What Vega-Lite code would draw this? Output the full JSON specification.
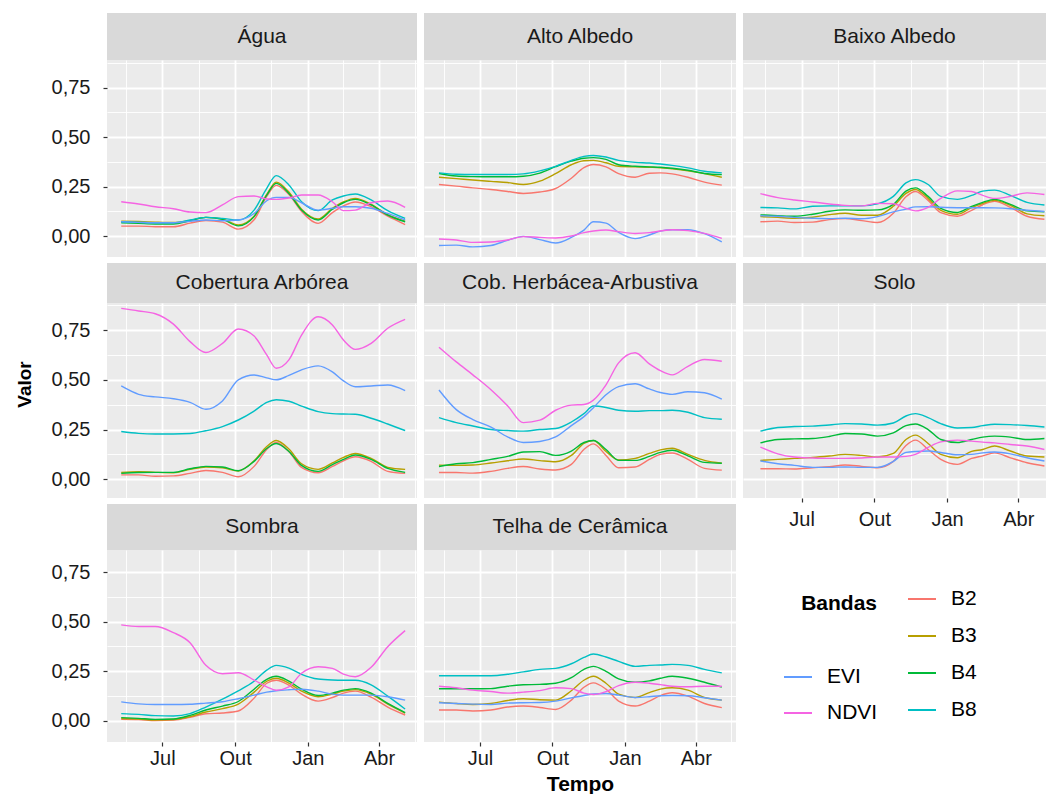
{
"$schema": "https://vega.github.io/schema/vega-lite/v6.json",
"background": "#FFFFFF",
"padding": {"left": 15, "top": 13, "right": 0, "bottom": 0},
"spacing": 7,
"config": {
  "font": "Liberation Sans",
  "view": {"fill": "#EBEBEB", "stroke": null},
  "axis": {"domain": false, "gridColor": "#FFFFFF", "gridOpacity": 1, "tickColor": "#333333", "tickSize": 4, "tickWidth": 1.2, "labelFont": "Liberation Sans", "labelFontSize": 20, "labelColor": "#1A1A1A", "titleFont": "Liberation Sans", "titleColor": "#000000", "titleFontWeight": "bold"},
  "legend": {"labelFont": "Liberation Sans", "labelFontSize": 21, "labelColor": "#000000", "titleFont": "Liberation Sans", "titleFontSize": 21, "titleFontWeight": "bold", "titleColor": "#000000", "symbolType": "stroke", "symbolStrokeWidth": 2, "symbolSize": 784, "labelOffset": 14, "rowPadding": 9, "padding": 0}
},
"datasets": {
"agua": [
{"s":"B2","t":"2018-05-10","v":0.05},{"s":"B2","t":"2018-06-01","v":0.05},{"s":"B2","t":"2018-06-22","v":0.047},{"s":"B2","t":"2018-07-15","v":0.047},{"s":"B2","t":"2018-08-05","v":0.065},{"s":"B2","t":"2018-08-25","v":0.078},{"s":"B2","t":"2018-09-15","v":0.07},{"s":"B2","t":"2018-10-05","v":0.035},{"s":"B2","t":"2018-10-25","v":0.082},{"s":"B2","t":"2018-11-10","v":0.2},{"s":"B2","t":"2018-11-22","v":0.256},{"s":"B2","t":"2018-12-08","v":0.21},{"s":"B2","t":"2018-12-24","v":0.125},{"s":"B2","t":"2019-01-14","v":0.064},{"s":"B2","t":"2019-02-01","v":0.118},{"s":"B2","t":"2019-02-15","v":0.152},{"s":"B2","t":"2019-03-02","v":0.172},{"s":"B2","t":"2019-03-22","v":0.148},{"s":"B2","t":"2019-04-12","v":0.1},{"s":"B2","t":"2019-05-04","v":0.058},
{"s":"B3","t":"2018-05-10","v":0.075},{"s":"B3","t":"2018-06-01","v":0.073},{"s":"B3","t":"2018-06-22","v":0.07},{"s":"B3","t":"2018-07-15","v":0.068},{"s":"B3","t":"2018-08-05","v":0.078},{"s":"B3","t":"2018-08-25","v":0.094},{"s":"B3","t":"2018-09-15","v":0.086},{"s":"B3","t":"2018-10-05","v":0.056},{"s":"B3","t":"2018-10-25","v":0.1},{"s":"B3","t":"2018-11-10","v":0.21},{"s":"B3","t":"2018-11-22","v":0.272},{"s":"B3","t":"2018-12-08","v":0.222},{"s":"B3","t":"2018-12-24","v":0.135},{"s":"B3","t":"2019-01-14","v":0.086},{"s":"B3","t":"2019-02-01","v":0.14},{"s":"B3","t":"2019-02-15","v":0.172},{"s":"B3","t":"2019-03-02","v":0.19},{"s":"B3","t":"2019-03-22","v":0.16},{"s":"B3","t":"2019-04-12","v":0.108},{"s":"B3","t":"2019-05-04","v":0.075},
{"s":"B4","t":"2018-05-10","v":0.067},{"s":"B4","t":"2018-06-01","v":0.064},{"s":"B4","t":"2018-06-22","v":0.061},{"s":"B4","t":"2018-07-15","v":0.061},{"s":"B4","t":"2018-08-05","v":0.077},{"s":"B4","t":"2018-08-25","v":0.094},{"s":"B4","t":"2018-09-15","v":0.084},{"s":"B4","t":"2018-10-05","v":0.051},{"s":"B4","t":"2018-10-25","v":0.098},{"s":"B4","t":"2018-11-10","v":0.207},{"s":"B4","t":"2018-11-22","v":0.266},{"s":"B4","t":"2018-12-08","v":0.215},{"s":"B4","t":"2018-12-24","v":0.131},{"s":"B4","t":"2019-01-14","v":0.081},{"s":"B4","t":"2019-02-01","v":0.135},{"s":"B4","t":"2019-02-15","v":0.168},{"s":"B4","t":"2019-03-02","v":0.185},{"s":"B4","t":"2019-03-22","v":0.157},{"s":"B4","t":"2019-04-12","v":0.106},{"s":"B4","t":"2019-05-04","v":0.072},
{"s":"B8","t":"2018-05-10","v":0.072},{"s":"B8","t":"2018-06-01","v":0.069},{"s":"B8","t":"2018-06-22","v":0.067},{"s":"B8","t":"2018-07-15","v":0.067},{"s":"B8","t":"2018-08-05","v":0.081},{"s":"B8","t":"2018-08-25","v":0.094},{"s":"B8","t":"2018-09-15","v":0.089},{"s":"B8","t":"2018-10-05","v":0.081},{"s":"B8","t":"2018-10-25","v":0.131},{"s":"B8","t":"2018-11-10","v":0.241},{"s":"B8","t":"2018-11-22","v":0.305},{"s":"B8","t":"2018-12-08","v":0.258},{"s":"B8","t":"2018-12-24","v":0.173},{"s":"B8","t":"2019-01-14","v":0.128},{"s":"B8","t":"2019-02-01","v":0.182},{"s":"B8","t":"2019-02-15","v":0.202},{"s":"B8","t":"2019-03-02","v":0.212},{"s":"B8","t":"2019-03-22","v":0.182},{"s":"B8","t":"2019-04-12","v":0.128},{"s":"B8","t":"2019-05-04","v":0.089},
{"s":"EVI","t":"2018-05-10","v":0.072},{"s":"EVI","t":"2018-06-01","v":0.069},{"s":"EVI","t":"2018-06-22","v":0.067},{"s":"EVI","t":"2018-07-15","v":0.067},{"s":"EVI","t":"2018-08-05","v":0.074},{"s":"EVI","t":"2018-08-25","v":0.081},{"s":"EVI","t":"2018-09-15","v":0.077},{"s":"EVI","t":"2018-10-05","v":0.081},{"s":"EVI","t":"2018-10-25","v":0.114},{"s":"EVI","t":"2018-11-10","v":0.178},{"s":"EVI","t":"2018-11-22","v":0.195},{"s":"EVI","t":"2018-12-08","v":0.195},{"s":"EVI","t":"2018-12-24","v":0.168},{"s":"EVI","t":"2019-01-14","v":0.131},{"s":"EVI","t":"2019-02-01","v":0.14},{"s":"EVI","t":"2019-02-15","v":0.148},{"s":"EVI","t":"2019-03-02","v":0.148},{"s":"EVI","t":"2019-03-22","v":0.14},{"s":"EVI","t":"2019-04-12","v":0.114},{"s":"EVI","t":"2019-05-04","v":0.081},
{"s":"NDVI","t":"2018-05-10","v":0.173},{"s":"NDVI","t":"2018-06-01","v":0.162},{"s":"NDVI","t":"2018-06-22","v":0.148},{"s":"NDVI","t":"2018-07-15","v":0.138},{"s":"NDVI","t":"2018-08-05","v":0.121},{"s":"NDVI","t":"2018-08-25","v":0.118},{"s":"NDVI","t":"2018-09-15","v":0.157},{"s":"NDVI","t":"2018-10-05","v":0.199},{"s":"NDVI","t":"2018-10-25","v":0.202},{"s":"NDVI","t":"2018-11-10","v":0.187},{"s":"NDVI","t":"2018-11-22","v":0.185},{"s":"NDVI","t":"2018-12-08","v":0.192},{"s":"NDVI","t":"2018-12-24","v":0.207},{"s":"NDVI","t":"2019-01-14","v":0.207},{"s":"NDVI","t":"2019-02-01","v":0.173},{"s":"NDVI","t":"2019-02-15","v":0.128},{"s":"NDVI","t":"2019-03-02","v":0.131},{"s":"NDVI","t":"2019-03-22","v":0.168},{"s":"NDVI","t":"2019-04-12","v":0.177},{"s":"NDVI","t":"2019-05-04","v":0.145}
],
"alto": [
{"s":"B2","t":"2018-05-10","v":0.26},{"s":"B2","t":"2018-06-01","v":0.252},{"s":"B2","t":"2018-06-22","v":0.243},{"s":"B2","t":"2018-07-15","v":0.235},{"s":"B2","t":"2018-08-05","v":0.225},{"s":"B2","t":"2018-08-25","v":0.215},{"s":"B2","t":"2018-09-15","v":0.222},{"s":"B2","t":"2018-10-05","v":0.24},{"s":"B2","t":"2018-10-25","v":0.292},{"s":"B2","t":"2018-11-10","v":0.345},{"s":"B2","t":"2018-11-22","v":0.361},{"s":"B2","t":"2018-12-08","v":0.349},{"s":"B2","t":"2018-12-24","v":0.315},{"s":"B2","t":"2019-01-14","v":0.297},{"s":"B2","t":"2019-02-01","v":0.317},{"s":"B2","t":"2019-02-15","v":0.319},{"s":"B2","t":"2019-03-02","v":0.314},{"s":"B2","t":"2019-03-22","v":0.297},{"s":"B2","t":"2019-04-12","v":0.272},{"s":"B2","t":"2019-05-04","v":0.257},
{"s":"B3","t":"2018-05-10","v":0.297},{"s":"B3","t":"2018-06-01","v":0.29},{"s":"B3","t":"2018-06-22","v":0.283},{"s":"B3","t":"2018-07-15","v":0.276},{"s":"B3","t":"2018-08-05","v":0.27},{"s":"B3","t":"2018-08-25","v":0.26},{"s":"B3","t":"2018-09-15","v":0.277},{"s":"B3","t":"2018-10-05","v":0.315},{"s":"B3","t":"2018-10-25","v":0.36},{"s":"B3","t":"2018-11-10","v":0.38},{"s":"B3","t":"2018-11-22","v":0.382},{"s":"B3","t":"2018-12-08","v":0.37},{"s":"B3","t":"2018-12-24","v":0.352},{"s":"B3","t":"2019-01-14","v":0.349},{"s":"B3","t":"2019-02-01","v":0.347},{"s":"B3","t":"2019-02-15","v":0.345},{"s":"B3","t":"2019-03-02","v":0.339},{"s":"B3","t":"2019-03-22","v":0.329},{"s":"B3","t":"2019-04-12","v":0.315},{"s":"B3","t":"2019-05-04","v":0.297},
{"s":"B4","t":"2018-05-10","v":0.316},{"s":"B4","t":"2018-06-01","v":0.303},{"s":"B4","t":"2018-06-22","v":0.3},{"s":"B4","t":"2018-07-15","v":0.299},{"s":"B4","t":"2018-08-05","v":0.299},{"s":"B4","t":"2018-08-25","v":0.302},{"s":"B4","t":"2018-09-15","v":0.318},{"s":"B4","t":"2018-10-05","v":0.35},{"s":"B4","t":"2018-10-25","v":0.378},{"s":"B4","t":"2018-11-10","v":0.393},{"s":"B4","t":"2018-11-22","v":0.396},{"s":"B4","t":"2018-12-08","v":0.387},{"s":"B4","t":"2018-12-24","v":0.36},{"s":"B4","t":"2019-01-14","v":0.352},{"s":"B4","t":"2019-02-01","v":0.349},{"s":"B4","t":"2019-02-15","v":0.347},{"s":"B4","t":"2019-03-02","v":0.342},{"s":"B4","t":"2019-03-22","v":0.332},{"s":"B4","t":"2019-04-12","v":0.316},{"s":"B4","t":"2019-05-04","v":0.31},
{"s":"B8","t":"2018-05-10","v":0.319},{"s":"B8","t":"2018-06-01","v":0.312},{"s":"B8","t":"2018-06-22","v":0.311},{"s":"B8","t":"2018-07-15","v":0.311},{"s":"B8","t":"2018-08-05","v":0.311},{"s":"B8","t":"2018-08-25","v":0.314},{"s":"B8","t":"2018-09-15","v":0.329},{"s":"B8","t":"2018-10-05","v":0.352},{"s":"B8","t":"2018-10-25","v":0.382},{"s":"B8","t":"2018-11-10","v":0.402},{"s":"B8","t":"2018-11-22","v":0.407},{"s":"B8","t":"2018-12-08","v":0.399},{"s":"B8","t":"2018-12-24","v":0.382},{"s":"B8","t":"2019-01-14","v":0.372},{"s":"B8","t":"2019-02-01","v":0.369},{"s":"B8","t":"2019-02-15","v":0.364},{"s":"B8","t":"2019-03-02","v":0.357},{"s":"B8","t":"2019-03-22","v":0.344},{"s":"B8","t":"2019-04-12","v":0.327},{"s":"B8","t":"2019-05-04","v":0.319},
{"s":"EVI","t":"2018-05-10","v":-0.048},{"s":"EVI","t":"2018-06-01","v":-0.046},{"s":"EVI","t":"2018-06-22","v":-0.055},{"s":"EVI","t":"2018-07-15","v":-0.048},{"s":"EVI","t":"2018-08-05","v":-0.022},{"s":"EVI","t":"2018-08-25","v":-0.002},{"s":"EVI","t":"2018-09-15","v":-0.018},{"s":"EVI","t":"2018-10-05","v":-0.035},{"s":"EVI","t":"2018-10-25","v":-0.007},{"s":"EVI","t":"2018-11-10","v":0.03},{"s":"EVI","t":"2018-11-22","v":0.072},{"s":"EVI","t":"2018-12-08","v":0.065},{"s":"EVI","t":"2018-12-24","v":0.018},{"s":"EVI","t":"2019-01-14","v":-0.013},{"s":"EVI","t":"2019-02-01","v":0.005},{"s":"EVI","t":"2019-02-15","v":0.025},{"s":"EVI","t":"2019-03-02","v":0.032},{"s":"EVI","t":"2019-03-22","v":0.032},{"s":"EVI","t":"2019-04-12","v":0.012},{"s":"EVI","t":"2019-05-04","v":-0.03},
{"s":"NDVI","t":"2018-05-10","v":-0.015},{"s":"NDVI","t":"2018-06-01","v":-0.02},{"s":"NDVI","t":"2018-06-22","v":-0.032},{"s":"NDVI","t":"2018-07-15","v":-0.03},{"s":"NDVI","t":"2018-08-05","v":-0.02},{"s":"NDVI","t":"2018-08-25","v":-0.003},{"s":"NDVI","t":"2018-09-15","v":-0.007},{"s":"NDVI","t":"2018-10-05","v":-0.01},{"s":"NDVI","t":"2018-10-25","v":0.0},{"s":"NDVI","t":"2018-11-10","v":0.017},{"s":"NDVI","t":"2018-11-22","v":0.025},{"s":"NDVI","t":"2018-12-08","v":0.03},{"s":"NDVI","t":"2018-12-24","v":0.022},{"s":"NDVI","t":"2019-01-14","v":0.013},{"s":"NDVI","t":"2019-02-01","v":0.017},{"s":"NDVI","t":"2019-02-15","v":0.025},{"s":"NDVI","t":"2019-03-02","v":0.032},{"s":"NDVI","t":"2019-03-22","v":0.027},{"s":"NDVI","t":"2019-04-12","v":0.013},{"s":"NDVI","t":"2019-05-04","v":-0.012}
],
"baixo": [
{"s":"B2","t":"2018-05-10","v":0.072},{"s":"B2","t":"2018-06-01","v":0.075},{"s":"B2","t":"2018-06-22","v":0.068},{"s":"B2","t":"2018-07-15","v":0.07},{"s":"B2","t":"2018-08-05","v":0.083},{"s":"B2","t":"2018-08-25","v":0.088},{"s":"B2","t":"2018-09-15","v":0.078},{"s":"B2","t":"2018-10-05","v":0.068},{"s":"B2","t":"2018-10-25","v":0.115},{"s":"B2","t":"2018-11-10","v":0.198},{"s":"B2","t":"2018-11-22","v":0.225},{"s":"B2","t":"2018-12-08","v":0.18},{"s":"B2","t":"2018-12-24","v":0.118},{"s":"B2","t":"2019-01-14","v":0.1},{"s":"B2","t":"2019-02-01","v":0.13},{"s":"B2","t":"2019-02-15","v":0.158},{"s":"B2","t":"2019-03-02","v":0.175},{"s":"B2","t":"2019-03-22","v":0.145},{"s":"B2","t":"2019-04-12","v":0.1},{"s":"B2","t":"2019-05-04","v":0.085},
{"s":"B3","t":"2018-05-10","v":0.098},{"s":"B3","t":"2018-06-01","v":0.094},{"s":"B3","t":"2018-06-22","v":0.09},{"s":"B3","t":"2018-07-15","v":0.095},{"s":"B3","t":"2018-08-05","v":0.108},{"s":"B3","t":"2018-08-25","v":0.115},{"s":"B3","t":"2018-09-15","v":0.105},{"s":"B3","t":"2018-10-05","v":0.105},{"s":"B3","t":"2018-10-25","v":0.15},{"s":"B3","t":"2018-11-10","v":0.215},{"s":"B3","t":"2018-11-22","v":0.235},{"s":"B3","t":"2018-12-08","v":0.19},{"s":"B3","t":"2018-12-24","v":0.13},{"s":"B3","t":"2019-01-14","v":0.11},{"s":"B3","t":"2019-02-01","v":0.143},{"s":"B3","t":"2019-02-15","v":0.165},{"s":"B3","t":"2019-03-02","v":0.18},{"s":"B3","t":"2019-03-22","v":0.155},{"s":"B3","t":"2019-04-12","v":0.112},{"s":"B3","t":"2019-05-04","v":0.102},
{"s":"B4","t":"2018-05-10","v":0.107},{"s":"B4","t":"2018-06-01","v":0.103},{"s":"B4","t":"2018-06-22","v":0.1},{"s":"B4","t":"2018-07-15","v":0.11},{"s":"B4","t":"2018-08-05","v":0.125},{"s":"B4","t":"2018-08-25","v":0.132},{"s":"B4","t":"2018-09-15","v":0.13},{"s":"B4","t":"2018-10-05","v":0.132},{"s":"B4","t":"2018-10-25","v":0.16},{"s":"B4","t":"2018-11-10","v":0.227},{"s":"B4","t":"2018-11-22","v":0.243},{"s":"B4","t":"2018-12-08","v":0.2},{"s":"B4","t":"2018-12-24","v":0.14},{"s":"B4","t":"2019-01-14","v":0.119},{"s":"B4","t":"2019-02-01","v":0.15},{"s":"B4","t":"2019-02-15","v":0.17},{"s":"B4","t":"2019-03-02","v":0.185},{"s":"B4","t":"2019-03-22","v":0.16},{"s":"B4","t":"2019-04-12","v":0.127},{"s":"B4","t":"2019-05-04","v":0.122},
{"s":"B8","t":"2018-05-10","v":0.144},{"s":"B8","t":"2018-06-01","v":0.142},{"s":"B8","t":"2018-06-22","v":0.137},{"s":"B8","t":"2018-07-15","v":0.15},{"s":"B8","t":"2018-08-05","v":0.152},{"s":"B8","t":"2018-08-25","v":0.152},{"s":"B8","t":"2018-09-15","v":0.152},{"s":"B8","t":"2018-10-05","v":0.162},{"s":"B8","t":"2018-10-25","v":0.2},{"s":"B8","t":"2018-11-10","v":0.268},{"s":"B8","t":"2018-11-22","v":0.285},{"s":"B8","t":"2018-12-08","v":0.26},{"s":"B8","t":"2018-12-24","v":0.2},{"s":"B8","t":"2019-01-14","v":0.185},{"s":"B8","t":"2019-02-01","v":0.205},{"s":"B8","t":"2019-02-15","v":0.227},{"s":"B8","t":"2019-03-02","v":0.232},{"s":"B8","t":"2019-03-22","v":0.205},{"s":"B8","t":"2019-04-12","v":0.17},{"s":"B8","t":"2019-05-04","v":0.157},
{"s":"EVI","t":"2018-05-10","v":0.102},{"s":"EVI","t":"2018-06-01","v":0.1},{"s":"EVI","t":"2018-06-22","v":0.094},{"s":"EVI","t":"2018-07-15","v":0.09},{"s":"EVI","t":"2018-08-05","v":0.088},{"s":"EVI","t":"2018-08-25","v":0.09},{"s":"EVI","t":"2018-09-15","v":0.087},{"s":"EVI","t":"2018-10-05","v":0.098},{"s":"EVI","t":"2018-10-25","v":0.122},{"s":"EVI","t":"2018-11-10","v":0.136},{"s":"EVI","t":"2018-11-22","v":0.147},{"s":"EVI","t":"2018-12-08","v":0.148},{"s":"EVI","t":"2018-12-24","v":0.145},{"s":"EVI","t":"2019-01-14","v":0.143},{"s":"EVI","t":"2019-02-01","v":0.143},{"s":"EVI","t":"2019-02-15","v":0.143},{"s":"EVI","t":"2019-03-02","v":0.142},{"s":"EVI","t":"2019-03-22","v":0.138},{"s":"EVI","t":"2019-04-12","v":0.13},{"s":"EVI","t":"2019-05-04","v":0.124},
{"s":"NDVI","t":"2018-05-10","v":0.214},{"s":"NDVI","t":"2018-06-01","v":0.194},{"s":"NDVI","t":"2018-06-22","v":0.182},{"s":"NDVI","t":"2018-07-15","v":0.172},{"s":"NDVI","t":"2018-08-05","v":0.162},{"s":"NDVI","t":"2018-08-25","v":0.155},{"s":"NDVI","t":"2018-09-15","v":0.152},{"s":"NDVI","t":"2018-10-05","v":0.165},{"s":"NDVI","t":"2018-10-25","v":0.163},{"s":"NDVI","t":"2018-11-10","v":0.14},{"s":"NDVI","t":"2018-11-22","v":0.127},{"s":"NDVI","t":"2018-12-08","v":0.145},{"s":"NDVI","t":"2018-12-24","v":0.19},{"s":"NDVI","t":"2019-01-14","v":0.228},{"s":"NDVI","t":"2019-02-01","v":0.225},{"s":"NDVI","t":"2019-02-15","v":0.205},{"s":"NDVI","t":"2019-03-02","v":0.19},{"s":"NDVI","t":"2019-03-22","v":0.2},{"s":"NDVI","t":"2019-04-12","v":0.218},{"s":"NDVI","t":"2019-05-04","v":0.21}
],
"arb": [
{"s":"B2","t":"2018-05-10","v":0.022},{"s":"B2","t":"2018-06-01","v":0.022},{"s":"B2","t":"2018-06-22","v":0.015},{"s":"B2","t":"2018-07-15","v":0.017},{"s":"B2","t":"2018-08-05","v":0.03},{"s":"B2","t":"2018-08-25","v":0.044},{"s":"B2","t":"2018-09-15","v":0.035},{"s":"B2","t":"2018-10-05","v":0.013},{"s":"B2","t":"2018-10-25","v":0.065},{"s":"B2","t":"2018-11-10","v":0.15},{"s":"B2","t":"2018-11-22","v":0.185},{"s":"B2","t":"2018-12-08","v":0.14},{"s":"B2","t":"2018-12-24","v":0.06},{"s":"B2","t":"2019-01-14","v":0.033},{"s":"B2","t":"2019-02-01","v":0.065},{"s":"B2","t":"2019-02-15","v":0.093},{"s":"B2","t":"2019-03-02","v":0.113},{"s":"B2","t":"2019-03-22","v":0.09},{"s":"B2","t":"2019-04-12","v":0.04},{"s":"B2","t":"2019-05-04","v":0.03},
{"s":"B3","t":"2018-05-10","v":0.035},{"s":"B3","t":"2018-06-01","v":0.038},{"s":"B3","t":"2018-06-22","v":0.035},{"s":"B3","t":"2018-07-15","v":0.033},{"s":"B3","t":"2018-08-05","v":0.05},{"s":"B3","t":"2018-08-25","v":0.062},{"s":"B3","t":"2018-09-15","v":0.058},{"s":"B3","t":"2018-10-05","v":0.042},{"s":"B3","t":"2018-10-25","v":0.093},{"s":"B3","t":"2018-11-10","v":0.165},{"s":"B3","t":"2018-11-22","v":0.195},{"s":"B3","t":"2018-12-08","v":0.152},{"s":"B3","t":"2018-12-24","v":0.078},{"s":"B3","t":"2019-01-14","v":0.05},{"s":"B3","t":"2019-02-01","v":0.082},{"s":"B3","t":"2019-02-15","v":0.11},{"s":"B3","t":"2019-03-02","v":0.13},{"s":"B3","t":"2019-03-22","v":0.105},{"s":"B3","t":"2019-04-12","v":0.06},{"s":"B3","t":"2019-05-04","v":0.05},
{"s":"B4","t":"2018-05-10","v":0.03},{"s":"B4","t":"2018-06-01","v":0.034},{"s":"B4","t":"2018-06-22","v":0.035},{"s":"B4","t":"2018-07-15","v":0.035},{"s":"B4","t":"2018-08-05","v":0.053},{"s":"B4","t":"2018-08-25","v":0.065},{"s":"B4","t":"2018-09-15","v":0.062},{"s":"B4","t":"2018-10-05","v":0.043},{"s":"B4","t":"2018-10-25","v":0.09},{"s":"B4","t":"2018-11-10","v":0.155},{"s":"B4","t":"2018-11-22","v":0.18},{"s":"B4","t":"2018-12-08","v":0.14},{"s":"B4","t":"2018-12-24","v":0.07},{"s":"B4","t":"2019-01-14","v":0.04},{"s":"B4","t":"2019-02-01","v":0.074},{"s":"B4","t":"2019-02-15","v":0.1},{"s":"B4","t":"2019-03-02","v":0.122},{"s":"B4","t":"2019-03-22","v":0.1},{"s":"B4","t":"2019-04-12","v":0.055},{"s":"B4","t":"2019-05-04","v":0.035},
{"s":"B8","t":"2018-05-10","v":0.24},{"s":"B8","t":"2018-06-01","v":0.231},{"s":"B8","t":"2018-06-22","v":0.228},{"s":"B8","t":"2018-07-15","v":0.228},{"s":"B8","t":"2018-08-05","v":0.23},{"s":"B8","t":"2018-08-25","v":0.244},{"s":"B8","t":"2018-09-15","v":0.265},{"s":"B8","t":"2018-10-05","v":0.298},{"s":"B8","t":"2018-10-25","v":0.343},{"s":"B8","t":"2018-11-10","v":0.387},{"s":"B8","t":"2018-11-22","v":0.4},{"s":"B8","t":"2018-12-08","v":0.392},{"s":"B8","t":"2018-12-24","v":0.368},{"s":"B8","t":"2019-01-14","v":0.34},{"s":"B8","t":"2019-02-01","v":0.33},{"s":"B8","t":"2019-02-15","v":0.328},{"s":"B8","t":"2019-03-02","v":0.327},{"s":"B8","t":"2019-03-22","v":0.307},{"s":"B8","t":"2019-04-12","v":0.278},{"s":"B8","t":"2019-05-04","v":0.245},
{"s":"EVI","t":"2018-05-10","v":0.469},{"s":"EVI","t":"2018-06-01","v":0.427},{"s":"EVI","t":"2018-06-22","v":0.414},{"s":"EVI","t":"2018-07-15","v":0.405},{"s":"EVI","t":"2018-08-05","v":0.387},{"s":"EVI","t":"2018-08-25","v":0.352},{"s":"EVI","t":"2018-09-15","v":0.394},{"s":"EVI","t":"2018-10-05","v":0.5},{"s":"EVI","t":"2018-10-25","v":0.524},{"s":"EVI","t":"2018-11-10","v":0.51},{"s":"EVI","t":"2018-11-22","v":0.5},{"s":"EVI","t":"2018-12-08","v":0.522},{"s":"EVI","t":"2018-12-24","v":0.55},{"s":"EVI","t":"2019-01-14","v":0.57},{"s":"EVI","t":"2019-02-01","v":0.54},{"s":"EVI","t":"2019-02-15","v":0.495},{"s":"EVI","t":"2019-03-02","v":0.465},{"s":"EVI","t":"2019-03-22","v":0.469},{"s":"EVI","t":"2019-04-12","v":0.474},{"s":"EVI","t":"2019-05-04","v":0.446},
{"s":"NDVI","t":"2018-05-10","v":0.859},{"s":"NDVI","t":"2018-06-01","v":0.846},{"s":"NDVI","t":"2018-06-22","v":0.832},{"s":"NDVI","t":"2018-07-15","v":0.78},{"s":"NDVI","t":"2018-08-05","v":0.692},{"s":"NDVI","t":"2018-08-25","v":0.637},{"s":"NDVI","t":"2018-09-15","v":0.683},{"s":"NDVI","t":"2018-10-05","v":0.755},{"s":"NDVI","t":"2018-10-25","v":0.72},{"s":"NDVI","t":"2018-11-10","v":0.625},{"s":"NDVI","t":"2018-11-22","v":0.558},{"s":"NDVI","t":"2018-12-08","v":0.6},{"s":"NDVI","t":"2018-12-24","v":0.725},{"s":"NDVI","t":"2019-01-14","v":0.817},{"s":"NDVI","t":"2019-02-01","v":0.776},{"s":"NDVI","t":"2019-02-15","v":0.7},{"s":"NDVI","t":"2019-03-02","v":0.653},{"s":"NDVI","t":"2019-03-22","v":0.683},{"s":"NDVI","t":"2019-04-12","v":0.759},{"s":"NDVI","t":"2019-05-04","v":0.804}
],
"herb": [
{"s":"B2","t":"2018-05-10","v":0.034},{"s":"B2","t":"2018-06-01","v":0.034},{"s":"B2","t":"2018-06-22","v":0.031},{"s":"B2","t":"2018-07-15","v":0.04},{"s":"B2","t":"2018-08-05","v":0.055},{"s":"B2","t":"2018-08-25","v":0.064},{"s":"B2","t":"2018-09-15","v":0.052},{"s":"B2","t":"2018-10-05","v":0.047},{"s":"B2","t":"2018-10-25","v":0.075},{"s":"B2","t":"2018-11-10","v":0.15},{"s":"B2","t":"2018-11-22","v":0.178},{"s":"B2","t":"2018-12-08","v":0.12},{"s":"B2","t":"2018-12-24","v":0.058},{"s":"B2","t":"2019-01-14","v":0.062},{"s":"B2","t":"2019-02-01","v":0.1},{"s":"B2","t":"2019-02-15","v":0.125},{"s":"B2","t":"2019-03-02","v":0.132},{"s":"B2","t":"2019-03-22","v":0.1},{"s":"B2","t":"2019-04-12","v":0.055},{"s":"B2","t":"2019-05-04","v":0.046},
{"s":"B3","t":"2018-05-10","v":0.071},{"s":"B3","t":"2018-06-01","v":0.07},{"s":"B3","t":"2018-06-22","v":0.072},{"s":"B3","t":"2018-07-15","v":0.082},{"s":"B3","t":"2018-08-05","v":0.093},{"s":"B3","t":"2018-08-25","v":0.102},{"s":"B3","t":"2018-09-15","v":0.094},{"s":"B3","t":"2018-10-05","v":0.088},{"s":"B3","t":"2018-10-25","v":0.12},{"s":"B3","t":"2018-11-10","v":0.18},{"s":"B3","t":"2018-11-22","v":0.195},{"s":"B3","t":"2018-12-08","v":0.14},{"s":"B3","t":"2018-12-24","v":0.097},{"s":"B3","t":"2019-01-14","v":0.105},{"s":"B3","t":"2019-02-01","v":0.13},{"s":"B3","t":"2019-02-15","v":0.148},{"s":"B3","t":"2019-03-02","v":0.156},{"s":"B3","t":"2019-03-22","v":0.125},{"s":"B3","t":"2019-04-12","v":0.095},{"s":"B3","t":"2019-05-04","v":0.081},
{"s":"B4","t":"2018-05-10","v":0.064},{"s":"B4","t":"2018-06-01","v":0.078},{"s":"B4","t":"2018-06-22","v":0.084},{"s":"B4","t":"2018-07-15","v":0.1},{"s":"B4","t":"2018-08-05","v":0.115},{"s":"B4","t":"2018-08-25","v":0.137},{"s":"B4","t":"2018-09-15","v":0.139},{"s":"B4","t":"2018-10-05","v":0.12},{"s":"B4","t":"2018-10-25","v":0.142},{"s":"B4","t":"2018-11-10","v":0.185},{"s":"B4","t":"2018-11-22","v":0.195},{"s":"B4","t":"2018-12-08","v":0.15},{"s":"B4","t":"2018-12-24","v":0.095},{"s":"B4","t":"2019-01-14","v":0.095},{"s":"B4","t":"2019-02-01","v":0.115},{"s":"B4","t":"2019-02-15","v":0.135},{"s":"B4","t":"2019-03-02","v":0.146},{"s":"B4","t":"2019-03-22","v":0.118},{"s":"B4","t":"2019-04-12","v":0.085},{"s":"B4","t":"2019-05-04","v":0.081},
{"s":"B8","t":"2018-05-10","v":0.31},{"s":"B8","t":"2018-06-01","v":0.285},{"s":"B8","t":"2018-06-22","v":0.268},{"s":"B8","t":"2018-07-15","v":0.25},{"s":"B8","t":"2018-08-05","v":0.245},{"s":"B8","t":"2018-08-25","v":0.242},{"s":"B8","t":"2018-09-15","v":0.25},{"s":"B8","t":"2018-10-05","v":0.255},{"s":"B8","t":"2018-10-25","v":0.288},{"s":"B8","t":"2018-11-10","v":0.33},{"s":"B8","t":"2018-11-22","v":0.368},{"s":"B8","t":"2018-12-08","v":0.361},{"s":"B8","t":"2018-12-24","v":0.347},{"s":"B8","t":"2019-01-14","v":0.342},{"s":"B8","t":"2019-02-01","v":0.345},{"s":"B8","t":"2019-02-15","v":0.345},{"s":"B8","t":"2019-03-02","v":0.347},{"s":"B8","t":"2019-03-22","v":0.337},{"s":"B8","t":"2019-04-12","v":0.31},{"s":"B8","t":"2019-05-04","v":0.302},
{"s":"EVI","t":"2018-05-10","v":0.449},{"s":"EVI","t":"2018-06-01","v":0.35},{"s":"EVI","t":"2018-06-22","v":0.3},{"s":"EVI","t":"2018-07-15","v":0.262},{"s":"EVI","t":"2018-08-05","v":0.213},{"s":"EVI","t":"2018-08-25","v":0.185},{"s":"EVI","t":"2018-09-15","v":0.19},{"s":"EVI","t":"2018-10-05","v":0.213},{"s":"EVI","t":"2018-10-25","v":0.27},{"s":"EVI","t":"2018-11-10","v":0.315},{"s":"EVI","t":"2018-11-22","v":0.36},{"s":"EVI","t":"2018-12-08","v":0.425},{"s":"EVI","t":"2018-12-24","v":0.466},{"s":"EVI","t":"2019-01-14","v":0.48},{"s":"EVI","t":"2019-02-01","v":0.454},{"s":"EVI","t":"2019-02-15","v":0.436},{"s":"EVI","t":"2019-03-02","v":0.427},{"s":"EVI","t":"2019-03-22","v":0.44},{"s":"EVI","t":"2019-04-12","v":0.435},{"s":"EVI","t":"2019-05-04","v":0.403},
{"s":"NDVI","t":"2018-05-10","v":0.664},{"s":"NDVI","t":"2018-06-01","v":0.59},{"s":"NDVI","t":"2018-06-22","v":0.525},{"s":"NDVI","t":"2018-07-15","v":0.45},{"s":"NDVI","t":"2018-08-05","v":0.37},{"s":"NDVI","t":"2018-08-25","v":0.285},{"s":"NDVI","t":"2018-09-15","v":0.297},{"s":"NDVI","t":"2018-10-05","v":0.347},{"s":"NDVI","t":"2018-10-25","v":0.373},{"s":"NDVI","t":"2018-11-10","v":0.376},{"s":"NDVI","t":"2018-11-22","v":0.398},{"s":"NDVI","t":"2018-12-08","v":0.475},{"s":"NDVI","t":"2018-12-24","v":0.585},{"s":"NDVI","t":"2019-01-14","v":0.636},{"s":"NDVI","t":"2019-02-01","v":0.58},{"s":"NDVI","t":"2019-02-15","v":0.546},{"s":"NDVI","t":"2019-03-02","v":0.525},{"s":"NDVI","t":"2019-03-22","v":0.568},{"s":"NDVI","t":"2019-04-12","v":0.602},{"s":"NDVI","t":"2019-05-04","v":0.593}
],
"solo": [
{"s":"B2","t":"2018-05-10","v":0.053},{"s":"B2","t":"2018-06-01","v":0.053},{"s":"B2","t":"2018-06-22","v":0.052},{"s":"B2","t":"2018-07-15","v":0.058},{"s":"B2","t":"2018-08-05","v":0.063},{"s":"B2","t":"2018-08-25","v":0.072},{"s":"B2","t":"2018-09-15","v":0.065},{"s":"B2","t":"2018-10-05","v":0.058},{"s":"B2","t":"2018-10-25","v":0.09},{"s":"B2","t":"2018-11-10","v":0.17},{"s":"B2","t":"2018-11-22","v":0.197},{"s":"B2","t":"2018-12-08","v":0.15},{"s":"B2","t":"2018-12-24","v":0.1},{"s":"B2","t":"2019-01-14","v":0.075},{"s":"B2","t":"2019-02-01","v":0.105},{"s":"B2","t":"2019-02-15","v":0.118},{"s":"B2","t":"2019-03-02","v":0.133},{"s":"B2","t":"2019-03-22","v":0.108},{"s":"B2","t":"2019-04-12","v":0.083},{"s":"B2","t":"2019-05-04","v":0.067},
{"s":"B3","t":"2018-05-10","v":0.095},{"s":"B3","t":"2018-06-01","v":0.1},{"s":"B3","t":"2018-06-22","v":0.105},{"s":"B3","t":"2018-07-15","v":0.11},{"s":"B3","t":"2018-08-05","v":0.117},{"s":"B3","t":"2018-08-25","v":0.125},{"s":"B3","t":"2018-09-15","v":0.12},{"s":"B3","t":"2018-10-05","v":0.112},{"s":"B3","t":"2018-10-25","v":0.13},{"s":"B3","t":"2018-11-10","v":0.2},{"s":"B3","t":"2018-11-22","v":0.222},{"s":"B3","t":"2018-12-08","v":0.18},{"s":"B3","t":"2018-12-24","v":0.125},{"s":"B3","t":"2019-01-14","v":0.108},{"s":"B3","t":"2019-02-01","v":0.14},{"s":"B3","t":"2019-02-15","v":0.15},{"s":"B3","t":"2019-03-02","v":0.167},{"s":"B3","t":"2019-03-22","v":0.142},{"s":"B3","t":"2019-04-12","v":0.117},{"s":"B3","t":"2019-05-04","v":0.112},
{"s":"B4","t":"2018-05-10","v":0.183},{"s":"B4","t":"2018-06-01","v":0.2},{"s":"B4","t":"2018-06-22","v":0.203},{"s":"B4","t":"2018-07-15","v":0.205},{"s":"B4","t":"2018-08-05","v":0.215},{"s":"B4","t":"2018-08-25","v":0.23},{"s":"B4","t":"2018-09-15","v":0.228},{"s":"B4","t":"2018-10-05","v":0.217},{"s":"B4","t":"2018-10-25","v":0.233},{"s":"B4","t":"2018-11-10","v":0.27},{"s":"B4","t":"2018-11-22","v":0.278},{"s":"B4","t":"2018-12-08","v":0.25},{"s":"B4","t":"2018-12-24","v":0.2},{"s":"B4","t":"2019-01-14","v":0.185},{"s":"B4","t":"2019-02-01","v":0.2},{"s":"B4","t":"2019-02-15","v":0.212},{"s":"B4","t":"2019-03-02","v":0.217},{"s":"B4","t":"2019-03-22","v":0.212},{"s":"B4","t":"2019-04-12","v":0.2},{"s":"B4","t":"2019-05-04","v":0.205},
{"s":"B8","t":"2018-05-10","v":0.242},{"s":"B8","t":"2018-06-01","v":0.26},{"s":"B8","t":"2018-06-22","v":0.265},{"s":"B8","t":"2018-07-15","v":0.267},{"s":"B8","t":"2018-08-05","v":0.273},{"s":"B8","t":"2018-08-25","v":0.28},{"s":"B8","t":"2018-09-15","v":0.278},{"s":"B8","t":"2018-10-05","v":0.272},{"s":"B8","t":"2018-10-25","v":0.283},{"s":"B8","t":"2018-11-10","v":0.318},{"s":"B8","t":"2018-11-22","v":0.33},{"s":"B8","t":"2018-12-08","v":0.31},{"s":"B8","t":"2018-12-24","v":0.28},{"s":"B8","t":"2019-01-14","v":0.258},{"s":"B8","t":"2019-02-01","v":0.26},{"s":"B8","t":"2019-02-15","v":0.27},{"s":"B8","t":"2019-03-02","v":0.277},{"s":"B8","t":"2019-03-22","v":0.275},{"s":"B8","t":"2019-04-12","v":0.27},{"s":"B8","t":"2019-05-04","v":0.263},
{"s":"EVI","t":"2018-05-10","v":0.092},{"s":"EVI","t":"2018-06-01","v":0.078},{"s":"EVI","t":"2018-06-22","v":0.07},{"s":"EVI","t":"2018-07-15","v":0.06},{"s":"EVI","t":"2018-08-05","v":0.06},{"s":"EVI","t":"2018-08-25","v":0.062},{"s":"EVI","t":"2018-09-15","v":0.06},{"s":"EVI","t":"2018-10-05","v":0.06},{"s":"EVI","t":"2018-10-25","v":0.09},{"s":"EVI","t":"2018-11-10","v":0.135},{"s":"EVI","t":"2018-11-22","v":0.14},{"s":"EVI","t":"2018-12-08","v":0.142},{"s":"EVI","t":"2018-12-24","v":0.135},{"s":"EVI","t":"2019-01-14","v":0.123},{"s":"EVI","t":"2019-02-01","v":0.125},{"s":"EVI","t":"2019-02-15","v":0.133},{"s":"EVI","t":"2019-03-02","v":0.137},{"s":"EVI","t":"2019-03-22","v":0.128},{"s":"EVI","t":"2019-04-12","v":0.108},{"s":"EVI","t":"2019-05-04","v":0.092},
{"s":"NDVI","t":"2018-05-10","v":0.162},{"s":"NDVI","t":"2018-06-01","v":0.128},{"s":"NDVI","t":"2018-06-22","v":0.112},{"s":"NDVI","t":"2018-07-15","v":0.107},{"s":"NDVI","t":"2018-08-05","v":0.105},{"s":"NDVI","t":"2018-08-25","v":0.105},{"s":"NDVI","t":"2018-09-15","v":0.107},{"s":"NDVI","t":"2018-10-05","v":0.112},{"s":"NDVI","t":"2018-10-25","v":0.112},{"s":"NDVI","t":"2018-11-10","v":0.115},{"s":"NDVI","t":"2018-11-22","v":0.125},{"s":"NDVI","t":"2018-12-08","v":0.16},{"s":"NDVI","t":"2018-12-24","v":0.188},{"s":"NDVI","t":"2019-01-14","v":0.197},{"s":"NDVI","t":"2019-02-01","v":0.192},{"s":"NDVI","t":"2019-02-15","v":0.187},{"s":"NDVI","t":"2019-03-02","v":0.183},{"s":"NDVI","t":"2019-03-22","v":0.175},{"s":"NDVI","t":"2019-04-12","v":0.167},{"s":"NDVI","t":"2019-05-04","v":0.15}
],
"sombra": [
{"s":"B2","t":"2018-05-10","v":0.008},{"s":"B2","t":"2018-06-01","v":0.007},{"s":"B2","t":"2018-06-22","v":0.002},{"s":"B2","t":"2018-07-15","v":0.004},{"s":"B2","t":"2018-08-05","v":0.018},{"s":"B2","t":"2018-08-25","v":0.036},{"s":"B2","t":"2018-09-15","v":0.04},{"s":"B2","t":"2018-10-05","v":0.05},{"s":"B2","t":"2018-10-25","v":0.115},{"s":"B2","t":"2018-11-10","v":0.19},{"s":"B2","t":"2018-11-22","v":0.205},{"s":"B2","t":"2018-12-08","v":0.18},{"s":"B2","t":"2018-12-24","v":0.135},{"s":"B2","t":"2019-01-14","v":0.1},{"s":"B2","t":"2019-02-01","v":0.118},{"s":"B2","t":"2019-02-15","v":0.14},{"s":"B2","t":"2019-03-02","v":0.15},{"s":"B2","t":"2019-03-22","v":0.12},{"s":"B2","t":"2019-04-12","v":0.07},{"s":"B2","t":"2019-05-04","v":0.03},
{"s":"B3","t":"2018-05-10","v":0.012},{"s":"B3","t":"2018-06-01","v":0.01},{"s":"B3","t":"2018-06-22","v":0.005},{"s":"B3","t":"2018-07-15","v":0.007},{"s":"B3","t":"2018-08-05","v":0.022},{"s":"B3","t":"2018-08-25","v":0.045},{"s":"B3","t":"2018-09-15","v":0.062},{"s":"B3","t":"2018-10-05","v":0.085},{"s":"B3","t":"2018-10-25","v":0.145},{"s":"B3","t":"2018-11-10","v":0.2},{"s":"B3","t":"2018-11-22","v":0.215},{"s":"B3","t":"2018-12-08","v":0.19},{"s":"B3","t":"2018-12-24","v":0.15},{"s":"B3","t":"2019-01-14","v":0.122},{"s":"B3","t":"2019-02-01","v":0.135},{"s":"B3","t":"2019-02-15","v":0.15},{"s":"B3","t":"2019-03-02","v":0.158},{"s":"B3","t":"2019-03-22","v":0.135},{"s":"B3","t":"2019-04-12","v":0.085},{"s":"B3","t":"2019-05-04","v":0.04},
{"s":"B4","t":"2018-05-10","v":0.017},{"s":"B4","t":"2018-06-01","v":0.013},{"s":"B4","t":"2018-06-22","v":0.008},{"s":"B4","t":"2018-07-15","v":0.01},{"s":"B4","t":"2018-08-05","v":0.028},{"s":"B4","t":"2018-08-25","v":0.055},{"s":"B4","t":"2018-09-15","v":0.075},{"s":"B4","t":"2018-10-05","v":0.098},{"s":"B4","t":"2018-10-25","v":0.16},{"s":"B4","t":"2018-11-10","v":0.21},{"s":"B4","t":"2018-11-22","v":0.225},{"s":"B4","t":"2018-12-08","v":0.2},{"s":"B4","t":"2018-12-24","v":0.16},{"s":"B4","t":"2019-01-14","v":0.128},{"s":"B4","t":"2019-02-01","v":0.14},{"s":"B4","t":"2019-02-15","v":0.155},{"s":"B4","t":"2019-03-02","v":0.163},{"s":"B4","t":"2019-03-22","v":0.14},{"s":"B4","t":"2019-04-12","v":0.088},{"s":"B4","t":"2019-05-04","v":0.042},
{"s":"B8","t":"2018-05-10","v":0.037},{"s":"B8","t":"2018-06-01","v":0.033},{"s":"B8","t":"2018-06-22","v":0.027},{"s":"B8","t":"2018-07-15","v":0.025},{"s":"B8","t":"2018-08-05","v":0.037},{"s":"B8","t":"2018-08-25","v":0.07},{"s":"B8","t":"2018-09-15","v":0.11},{"s":"B8","t":"2018-10-05","v":0.152},{"s":"B8","t":"2018-10-25","v":0.2},{"s":"B8","t":"2018-11-10","v":0.256},{"s":"B8","t":"2018-11-22","v":0.28},{"s":"B8","t":"2018-12-08","v":0.266},{"s":"B8","t":"2018-12-24","v":0.235},{"s":"B8","t":"2019-01-14","v":0.211},{"s":"B8","t":"2019-02-01","v":0.206},{"s":"B8","t":"2019-02-15","v":0.205},{"s":"B8","t":"2019-03-02","v":0.205},{"s":"B8","t":"2019-03-22","v":0.182},{"s":"B8","t":"2019-04-12","v":0.125},{"s":"B8","t":"2019-05-04","v":0.06},
{"s":"EVI","t":"2018-05-10","v":0.096},{"s":"EVI","t":"2018-06-01","v":0.086},{"s":"EVI","t":"2018-06-22","v":0.083},{"s":"EVI","t":"2018-07-15","v":0.083},{"s":"EVI","t":"2018-08-05","v":0.084},{"s":"EVI","t":"2018-08-25","v":0.09},{"s":"EVI","t":"2018-09-15","v":0.097},{"s":"EVI","t":"2018-10-05","v":0.112},{"s":"EVI","t":"2018-10-25","v":0.13},{"s":"EVI","t":"2018-11-10","v":0.145},{"s":"EVI","t":"2018-11-22","v":0.152},{"s":"EVI","t":"2018-12-08","v":0.157},{"s":"EVI","t":"2018-12-24","v":0.16},{"s":"EVI","t":"2019-01-14","v":0.15},{"s":"EVI","t":"2019-02-01","v":0.135},{"s":"EVI","t":"2019-02-15","v":0.13},{"s":"EVI","t":"2019-03-02","v":0.13},{"s":"EVI","t":"2019-03-22","v":0.13},{"s":"EVI","t":"2019-04-12","v":0.122},{"s":"EVI","t":"2019-05-04","v":0.105},
{"s":"NDVI","t":"2018-05-10","v":0.484},{"s":"NDVI","t":"2018-06-01","v":0.476},{"s":"NDVI","t":"2018-06-22","v":0.476},{"s":"NDVI","t":"2018-07-15","v":0.445},{"s":"NDVI","t":"2018-08-05","v":0.394},{"s":"NDVI","t":"2018-08-25","v":0.28},{"s":"NDVI","t":"2018-09-15","v":0.238},{"s":"NDVI","t":"2018-10-05","v":0.243},{"s":"NDVI","t":"2018-10-25","v":0.206},{"s":"NDVI","t":"2018-11-10","v":0.172},{"s":"NDVI","t":"2018-11-22","v":0.155},{"s":"NDVI","t":"2018-12-08","v":0.172},{"s":"NDVI","t":"2018-12-24","v":0.24},{"s":"NDVI","t":"2019-01-14","v":0.273},{"s":"NDVI","t":"2019-02-01","v":0.265},{"s":"NDVI","t":"2019-02-15","v":0.236},{"s":"NDVI","t":"2019-03-02","v":0.223},{"s":"NDVI","t":"2019-03-22","v":0.27},{"s":"NDVI","t":"2019-04-12","v":0.374},{"s":"NDVI","t":"2019-05-04","v":0.455}
],
"telha": [
{"s":"B2","t":"2018-05-10","v":0.055},{"s":"B2","t":"2018-06-01","v":0.055},{"s":"B2","t":"2018-06-22","v":0.05},{"s":"B2","t":"2018-07-15","v":0.055},{"s":"B2","t":"2018-08-05","v":0.07},{"s":"B2","t":"2018-08-25","v":0.075},{"s":"B2","t":"2018-09-15","v":0.068},{"s":"B2","t":"2018-10-05","v":0.058},{"s":"B2","t":"2018-10-25","v":0.105},{"s":"B2","t":"2018-11-10","v":0.17},{"s":"B2","t":"2018-11-22","v":0.192},{"s":"B2","t":"2018-12-08","v":0.16},{"s":"B2","t":"2018-12-24","v":0.1},{"s":"B2","t":"2019-01-14","v":0.075},{"s":"B2","t":"2019-02-01","v":0.1},{"s":"B2","t":"2019-02-15","v":0.128},{"s":"B2","t":"2019-03-02","v":0.142},{"s":"B2","t":"2019-03-22","v":0.125},{"s":"B2","t":"2019-04-12","v":0.088},{"s":"B2","t":"2019-05-04","v":0.067},
{"s":"B3","t":"2018-05-10","v":0.095},{"s":"B3","t":"2018-06-01","v":0.088},{"s":"B3","t":"2018-06-22","v":0.083},{"s":"B3","t":"2018-07-15","v":0.088},{"s":"B3","t":"2018-08-05","v":0.103},{"s":"B3","t":"2018-08-25","v":0.112},{"s":"B3","t":"2018-09-15","v":0.107},{"s":"B3","t":"2018-10-05","v":0.105},{"s":"B3","t":"2018-10-25","v":0.152},{"s":"B3","t":"2018-11-10","v":0.205},{"s":"B3","t":"2018-11-22","v":0.225},{"s":"B3","t":"2018-12-08","v":0.19},{"s":"B3","t":"2018-12-24","v":0.135},{"s":"B3","t":"2019-01-14","v":0.118},{"s":"B3","t":"2019-02-01","v":0.143},{"s":"B3","t":"2019-02-15","v":0.16},{"s":"B3","t":"2019-03-02","v":0.167},{"s":"B3","t":"2019-03-22","v":0.155},{"s":"B3","t":"2019-04-12","v":0.118},{"s":"B3","t":"2019-05-04","v":0.105},
{"s":"B4","t":"2018-05-10","v":0.162},{"s":"B4","t":"2018-06-01","v":0.162},{"s":"B4","t":"2018-06-22","v":0.162},{"s":"B4","t":"2018-07-15","v":0.163},{"s":"B4","t":"2018-08-05","v":0.175},{"s":"B4","t":"2018-08-25","v":0.182},{"s":"B4","t":"2018-09-15","v":0.184},{"s":"B4","t":"2018-10-05","v":0.19},{"s":"B4","t":"2018-10-25","v":0.218},{"s":"B4","t":"2018-11-10","v":0.26},{"s":"B4","t":"2018-11-22","v":0.275},{"s":"B4","t":"2018-12-08","v":0.25},{"s":"B4","t":"2018-12-24","v":0.212},{"s":"B4","t":"2019-01-14","v":0.195},{"s":"B4","t":"2019-02-01","v":0.202},{"s":"B4","t":"2019-02-15","v":0.215},{"s":"B4","t":"2019-03-02","v":0.225},{"s":"B4","t":"2019-03-22","v":0.215},{"s":"B4","t":"2019-04-12","v":0.195},{"s":"B4","t":"2019-05-04","v":0.17},
{"s":"B8","t":"2018-05-10","v":0.228},{"s":"B8","t":"2018-06-01","v":0.228},{"s":"B8","t":"2018-06-22","v":0.228},{"s":"B8","t":"2018-07-15","v":0.228},{"s":"B8","t":"2018-08-05","v":0.235},{"s":"B8","t":"2018-08-25","v":0.247},{"s":"B8","t":"2018-09-15","v":0.26},{"s":"B8","t":"2018-10-05","v":0.265},{"s":"B8","t":"2018-10-25","v":0.288},{"s":"B8","t":"2018-11-10","v":0.32},{"s":"B8","t":"2018-11-22","v":0.337},{"s":"B8","t":"2018-12-08","v":0.322},{"s":"B8","t":"2018-12-24","v":0.3},{"s":"B8","t":"2019-01-14","v":0.275},{"s":"B8","t":"2019-02-01","v":0.28},{"s":"B8","t":"2019-02-15","v":0.282},{"s":"B8","t":"2019-03-02","v":0.285},{"s":"B8","t":"2019-03-22","v":0.28},{"s":"B8","t":"2019-04-12","v":0.26},{"s":"B8","t":"2019-05-04","v":0.242},
{"s":"EVI","t":"2018-05-10","v":0.092},{"s":"EVI","t":"2018-06-01","v":0.088},{"s":"EVI","t":"2018-06-22","v":0.085},{"s":"EVI","t":"2018-07-15","v":0.083},{"s":"EVI","t":"2018-08-05","v":0.09},{"s":"EVI","t":"2018-08-25","v":0.092},{"s":"EVI","t":"2018-09-15","v":0.093},{"s":"EVI","t":"2018-10-05","v":0.1},{"s":"EVI","t":"2018-10-25","v":0.116},{"s":"EVI","t":"2018-11-10","v":0.128},{"s":"EVI","t":"2018-11-22","v":0.136},{"s":"EVI","t":"2018-12-08","v":0.138},{"s":"EVI","t":"2018-12-24","v":0.13},{"s":"EVI","t":"2019-01-14","v":0.118},{"s":"EVI","t":"2019-02-01","v":0.122},{"s":"EVI","t":"2019-02-15","v":0.127},{"s":"EVI","t":"2019-03-02","v":0.128},{"s":"EVI","t":"2019-03-22","v":0.127},{"s":"EVI","t":"2019-04-12","v":0.117},{"s":"EVI","t":"2019-05-04","v":0.105},
{"s":"NDVI","t":"2018-05-10","v":0.175},{"s":"NDVI","t":"2018-06-01","v":0.167},{"s":"NDVI","t":"2018-06-22","v":0.155},{"s":"NDVI","t":"2018-07-15","v":0.148},{"s":"NDVI","t":"2018-08-05","v":0.14},{"s":"NDVI","t":"2018-08-25","v":0.145},{"s":"NDVI","t":"2018-09-15","v":0.153},{"s":"NDVI","t":"2018-10-05","v":0.167},{"s":"NDVI","t":"2018-10-25","v":0.163},{"s":"NDVI","t":"2018-11-10","v":0.14},{"s":"NDVI","t":"2018-11-22","v":0.133},{"s":"NDVI","t":"2018-12-08","v":0.148},{"s":"NDVI","t":"2018-12-24","v":0.178},{"s":"NDVI","t":"2019-01-14","v":0.195},{"s":"NDVI","t":"2019-02-01","v":0.19},{"s":"NDVI","t":"2019-02-15","v":0.183},{"s":"NDVI","t":"2019-03-02","v":0.175},{"s":"NDVI","t":"2019-03-22","v":0.172},{"s":"NDVI","t":"2019-04-12","v":0.175},{"s":"NDVI","t":"2019-05-04","v":0.175}
]
},
"hconcat": [
{"spacing": 6, "vconcat": [
{"spacing": 0, "vconcat": [
 {"data": {"values": [{"n": "Água"}]}, "width": 310, "height": 47, "view": {"fill": "#D9D9D9", "stroke": null}, "mark": {"type": "text", "font": "Liberation Sans", "fontSize": 21, "fill": "#1A1A1A"}, "encoding": {"text": {"field": "n"}}},
 {"data": {"name": "agua"}, "width": 310, "height": 197,
  "encoding": {
   "x": {"field": "t", "type": "temporal", "scale": {"type": "utc", "domain": [{"year": 2018, "month": 4, "date": 22, "utc": true}, {"year": 2019, "month": 5, "date": 19, "utc": true}]}, "axis": {"values": [{"year":2018,"month":5,"date":16,"utc":true},{"year":2018,"month":7,"date":1,"utc":true},{"year":2018,"month":8,"date":16,"utc":true},{"year":2018,"month":10,"date":1,"utc":true},{"year":2018,"month":11,"date":16,"utc":true},{"year":2019,"month":1,"date":1,"utc":true},{"year":2019,"month":2,"date":15,"utc":true},{"year":2019,"month":4,"date":1,"utc":true},{"year":2019,"month":5,"date":16,"utc":true}], "labels": false, "ticks": false, "title": null, "gridWidth": {"condition": {"test": "utcdate(datum.value)==1", "value": 1.8}, "value": 0.9}}},
   "y": {"field": "v", "type": "quantitative", "scale": {"domain": [-0.106, 0.889], "nice": false, "zero": false}, "axis": {"values": [0, 0.125, 0.25, 0.375, 0.5, 0.625, 0.75, 0.875], "title": null, "labelPadding": 13, "labelExpr": "datum.value*4==round(datum.value*4) ? replace(format(datum.value,'.2f'),'.',',') : ''", "tickOpacity": {"condition": {"test": "datum.value*4==round(datum.value*4)", "value": 1}, "value": 0}, "gridWidth": {"condition": {"test": "datum.value*4==round(datum.value*4)", "value": 1.8}, "value": 0.9}}}
  },
  "layer": [
   {"transform": [{"filter": {"field": "s", "oneOf": ["B2", "B3", "B4", "B8"]}}], "mark": {"type": "line", "interpolate": "monotone", "strokeWidth": 1.4}, "encoding": {"color": {"field": "s", "type": "nominal", "scale": {"domain": ["B2", "B3", "B4", "B8"], "range": ["#F8766D", "#B79F00", "#00BA38", "#00BFC4"]}, "legend": {"title": null, "orient": "none", "legendX": 800, "legendY": 571, "rowPadding": 12}}}},
   {"transform": [{"filter": {"field": "s", "oneOf": ["EVI", "NDVI"]}}], "mark": {"type": "line", "interpolate": "monotone", "strokeWidth": 1.4}, "encoding": {"stroke": {"field": "s", "type": "nominal", "scale": {"domain": ["EVI", "NDVI"], "range": ["#619CFF", "#F564E3"]}, "legend": {"title": "Bandas", "orient": "none", "legendX": 676, "legendY": 580, "titleAnchor": "end", "titlePadding": 48, "rowPadding": 11}}}}
  ]}
]},
{"spacing": 0, "vconcat": [
 {"data": {"values": [{"n": "Cobertura Arbórea"}]}, "width": 310, "height": 40, "view": {"fill": "#D9D9D9", "stroke": null}, "mark": {"type": "text", "font": "Liberation Sans", "fontSize": 21, "fill": "#1A1A1A"}, "encoding": {"text": {"field": "n"}}},
 {"data": {"name": "arb"}, "width": 310, "height": 195,
  "encoding": {
   "x": {"field": "t", "type": "temporal", "scale": {"type": "utc", "domain": [{"year": 2018, "month": 4, "date": 22, "utc": true}, {"year": 2019, "month": 5, "date": 19, "utc": true}]}, "axis": {"values": [{"year":2018,"month":5,"date":16,"utc":true},{"year":2018,"month":7,"date":1,"utc":true},{"year":2018,"month":8,"date":16,"utc":true},{"year":2018,"month":10,"date":1,"utc":true},{"year":2018,"month":11,"date":16,"utc":true},{"year":2019,"month":1,"date":1,"utc":true},{"year":2019,"month":2,"date":15,"utc":true},{"year":2019,"month":4,"date":1,"utc":true},{"year":2019,"month":5,"date":16,"utc":true}], "labels": false, "ticks": false, "title": null, "gridWidth": {"condition": {"test": "utcdate(datum.value)==1", "value": 1.8}, "value": 0.9}}},
   "y": {"field": "v", "type": "quantitative", "scale": {"domain": [-0.094, 0.886], "nice": false, "zero": false}, "axis": {"values": [0, 0.125, 0.25, 0.375, 0.5, 0.625, 0.75, 0.875], "title": "Valor", "titleFontSize": 19, "titlePadding": 17, "titleY": 81, "labelPadding": 13, "labelExpr": "datum.value*4==round(datum.value*4) ? replace(format(datum.value,'.2f'),'.',',') : ''", "tickOpacity": {"condition": {"test": "datum.value*4==round(datum.value*4)", "value": 1}, "value": 0}, "gridWidth": {"condition": {"test": "datum.value*4==round(datum.value*4)", "value": 1.8}, "value": 0.9}}}
  },
  "layer": [
   {"transform": [{"filter": {"field": "s", "oneOf": ["B2", "B3", "B4", "B8"]}}], "mark": {"type": "line", "interpolate": "monotone", "strokeWidth": 1.4}, "encoding": {"color": {"field": "s", "type": "nominal", "scale": {"domain": ["B2", "B3", "B4", "B8"], "range": ["#F8766D", "#B79F00", "#00BA38", "#00BFC4"]}, "legend": {"title": null, "orient": "none", "legendX": 800, "legendY": 571, "rowPadding": 12}}}},
   {"transform": [{"filter": {"field": "s", "oneOf": ["EVI", "NDVI"]}}], "mark": {"type": "line", "interpolate": "monotone", "strokeWidth": 1.4}, "encoding": {"stroke": {"field": "s", "type": "nominal", "scale": {"domain": ["EVI", "NDVI"], "range": ["#619CFF", "#F564E3"]}, "legend": {"title": "Bandas", "orient": "none", "legendX": 676, "legendY": 580, "titleAnchor": "end", "titlePadding": 48, "rowPadding": 11}}}}
  ]}
]},
{"spacing": 0, "vconcat": [
 {"data": {"values": [{"n": "Sombra"}]}, "width": 310, "height": 46, "view": {"fill": "#D9D9D9", "stroke": null}, "mark": {"type": "text", "font": "Liberation Sans", "fontSize": 21, "fill": "#1A1A1A"}, "encoding": {"text": {"field": "n"}}},
 {"data": {"name": "sombra"}, "width": 310, "height": 192,
  "encoding": {
   "x": {"field": "t", "type": "temporal", "scale": {"type": "utc", "domain": [{"year": 2018, "month": 4, "date": 22, "utc": true}, {"year": 2019, "month": 5, "date": 19, "utc": true}]}, "axis": {"values": [{"year":2018,"month":5,"date":16,"utc":true},{"year":2018,"month":7,"date":1,"utc":true},{"year":2018,"month":8,"date":16,"utc":true},{"year":2018,"month":10,"date":1,"utc":true},{"year":2018,"month":11,"date":16,"utc":true},{"year":2019,"month":1,"date":1,"utc":true},{"year":2019,"month":2,"date":15,"utc":true},{"year":2019,"month":4,"date":1,"utc":true},{"year":2019,"month":5,"date":16,"utc":true}], "title": null, "labelPadding": 2, "labelOverlap": false, "labelFlush": false, "labelExpr": "utcdate(datum.value)==1 ? ['Jan','Fev','Mar','Abr','Mai','Jun','Jul','Ago','Set','Out','Nov','Dez'][utcmonth(datum.value)] : ''", "tickOpacity": {"condition": {"test": "utcdate(datum.value)==1", "value": 1}, "value": 0}, "gridWidth": {"condition": {"test": "utcdate(datum.value)==1", "value": 1.8}, "value": 0.9}}},
   "y": {"field": "v", "type": "quantitative", "scale": {"domain": [-0.106, 0.861], "nice": false, "zero": false}, "axis": {"values": [0, 0.125, 0.25, 0.375, 0.5, 0.625, 0.75, 0.875], "title": null, "labelPadding": 13, "labelExpr": "datum.value*4==round(datum.value*4) ? replace(format(datum.value,'.2f'),'.',',') : ''", "tickOpacity": {"condition": {"test": "datum.value*4==round(datum.value*4)", "value": 1}, "value": 0}, "gridWidth": {"condition": {"test": "datum.value*4==round(datum.value*4)", "value": 1.8}, "value": 0.9}}}
  },
  "layer": [
   {"transform": [{"filter": {"field": "s", "oneOf": ["B2", "B3", "B4", "B8"]}}], "mark": {"type": "line", "interpolate": "monotone", "strokeWidth": 1.4}, "encoding": {"color": {"field": "s", "type": "nominal", "scale": {"domain": ["B2", "B3", "B4", "B8"], "range": ["#F8766D", "#B79F00", "#00BA38", "#00BFC4"]}, "legend": {"title": null, "orient": "none", "legendX": 800, "legendY": 571, "rowPadding": 12}}}},
   {"transform": [{"filter": {"field": "s", "oneOf": ["EVI", "NDVI"]}}], "mark": {"type": "line", "interpolate": "monotone", "strokeWidth": 1.4}, "encoding": {"stroke": {"field": "s", "type": "nominal", "scale": {"domain": ["EVI", "NDVI"], "range": ["#619CFF", "#F564E3"]}, "legend": {"title": "Bandas", "orient": "none", "legendX": 676, "legendY": 580, "titleAnchor": "end", "titlePadding": 48, "rowPadding": 11}}}}
  ]}
]}
]},
{"spacing": 6, "vconcat": [
{"spacing": 0, "vconcat": [
 {"data": {"values": [{"n": "Alto Albedo"}]}, "width": 312, "height": 47, "view": {"fill": "#D9D9D9", "stroke": null}, "mark": {"type": "text", "font": "Liberation Sans", "fontSize": 21, "fill": "#1A1A1A"}, "encoding": {"text": {"field": "n"}}},
 {"data": {"name": "alto"}, "width": 312, "height": 197,
  "encoding": {
   "x": {"field": "t", "type": "temporal", "scale": {"type": "utc", "domain": [{"year": 2018, "month": 4, "date": 21, "utc": true}, {"year": 2019, "month": 5, "date": 22, "utc": true}]}, "axis": {"values": [{"year":2018,"month":5,"date":16,"utc":true},{"year":2018,"month":7,"date":1,"utc":true},{"year":2018,"month":8,"date":16,"utc":true},{"year":2018,"month":10,"date":1,"utc":true},{"year":2018,"month":11,"date":16,"utc":true},{"year":2019,"month":1,"date":1,"utc":true},{"year":2019,"month":2,"date":15,"utc":true},{"year":2019,"month":4,"date":1,"utc":true},{"year":2019,"month":5,"date":16,"utc":true}], "labels": false, "ticks": false, "title": null, "gridWidth": {"condition": {"test": "utcdate(datum.value)==1", "value": 1.8}, "value": 0.9}}},
   "y": {"field": "v", "type": "quantitative", "scale": {"domain": [-0.106, 0.889], "nice": false, "zero": false}, "axis": {"values": [0, 0.125, 0.25, 0.375, 0.5, 0.625, 0.75, 0.875], "title": null, "labels": false, "ticks": false, "gridWidth": {"condition": {"test": "datum.value*4==round(datum.value*4)", "value": 1.8}, "value": 0.9}}}
  },
  "layer": [
   {"transform": [{"filter": {"field": "s", "oneOf": ["B2", "B3", "B4", "B8"]}}], "mark": {"type": "line", "interpolate": "monotone", "strokeWidth": 1.4}, "encoding": {"color": {"field": "s", "type": "nominal", "scale": {"domain": ["B2", "B3", "B4", "B8"], "range": ["#F8766D", "#B79F00", "#00BA38", "#00BFC4"]}, "legend": {"title": null, "orient": "none", "legendX": 800, "legendY": 571, "rowPadding": 12}}}},
   {"transform": [{"filter": {"field": "s", "oneOf": ["EVI", "NDVI"]}}], "mark": {"type": "line", "interpolate": "monotone", "strokeWidth": 1.4}, "encoding": {"stroke": {"field": "s", "type": "nominal", "scale": {"domain": ["EVI", "NDVI"], "range": ["#619CFF", "#F564E3"]}, "legend": {"title": "Bandas", "orient": "none", "legendX": 676, "legendY": 580, "titleAnchor": "end", "titlePadding": 48, "rowPadding": 11}}}}
  ]}
]},
{"spacing": 0, "vconcat": [
 {"data": {"values": [{"n": "Cob. Herbácea-Arbustiva"}]}, "width": 312, "height": 40, "view": {"fill": "#D9D9D9", "stroke": null}, "mark": {"type": "text", "font": "Liberation Sans", "fontSize": 21, "fill": "#1A1A1A"}, "encoding": {"text": {"field": "n"}}},
 {"data": {"name": "herb"}, "width": 312, "height": 195,
  "encoding": {
   "x": {"field": "t", "type": "temporal", "scale": {"type": "utc", "domain": [{"year": 2018, "month": 4, "date": 21, "utc": true}, {"year": 2019, "month": 5, "date": 22, "utc": true}]}, "axis": {"values": [{"year":2018,"month":5,"date":16,"utc":true},{"year":2018,"month":7,"date":1,"utc":true},{"year":2018,"month":8,"date":16,"utc":true},{"year":2018,"month":10,"date":1,"utc":true},{"year":2018,"month":11,"date":16,"utc":true},{"year":2019,"month":1,"date":1,"utc":true},{"year":2019,"month":2,"date":15,"utc":true},{"year":2019,"month":4,"date":1,"utc":true},{"year":2019,"month":5,"date":16,"utc":true}], "labels": false, "ticks": false, "title": null, "gridWidth": {"condition": {"test": "utcdate(datum.value)==1", "value": 1.8}, "value": 0.9}}},
   "y": {"field": "v", "type": "quantitative", "scale": {"domain": [-0.094, 0.886], "nice": false, "zero": false}, "axis": {"values": [0, 0.125, 0.25, 0.375, 0.5, 0.625, 0.75, 0.875], "title": null, "labels": false, "ticks": false, "gridWidth": {"condition": {"test": "datum.value*4==round(datum.value*4)", "value": 1.8}, "value": 0.9}}}
  },
  "layer": [
   {"transform": [{"filter": {"field": "s", "oneOf": ["B2", "B3", "B4", "B8"]}}], "mark": {"type": "line", "interpolate": "monotone", "strokeWidth": 1.4}, "encoding": {"color": {"field": "s", "type": "nominal", "scale": {"domain": ["B2", "B3", "B4", "B8"], "range": ["#F8766D", "#B79F00", "#00BA38", "#00BFC4"]}, "legend": {"title": null, "orient": "none", "legendX": 800, "legendY": 571, "rowPadding": 12}}}},
   {"transform": [{"filter": {"field": "s", "oneOf": ["EVI", "NDVI"]}}], "mark": {"type": "line", "interpolate": "monotone", "strokeWidth": 1.4}, "encoding": {"stroke": {"field": "s", "type": "nominal", "scale": {"domain": ["EVI", "NDVI"], "range": ["#619CFF", "#F564E3"]}, "legend": {"title": "Bandas", "orient": "none", "legendX": 676, "legendY": 580, "titleAnchor": "end", "titlePadding": 48, "rowPadding": 11}}}}
  ]}
]},
{"spacing": 0, "vconcat": [
 {"data": {"values": [{"n": "Telha de Cerâmica"}]}, "width": 312, "height": 46, "view": {"fill": "#D9D9D9", "stroke": null}, "mark": {"type": "text", "font": "Liberation Sans", "fontSize": 21, "fill": "#1A1A1A"}, "encoding": {"text": {"field": "n"}}},
 {"data": {"name": "telha"}, "width": 312, "height": 192,
  "encoding": {
   "x": {"field": "t", "type": "temporal", "scale": {"type": "utc", "domain": [{"year": 2018, "month": 4, "date": 21, "utc": true}, {"year": 2019, "month": 5, "date": 22, "utc": true}]}, "axis": {"values": [{"year":2018,"month":5,"date":16,"utc":true},{"year":2018,"month":7,"date":1,"utc":true},{"year":2018,"month":8,"date":16,"utc":true},{"year":2018,"month":10,"date":1,"utc":true},{"year":2018,"month":11,"date":16,"utc":true},{"year":2019,"month":1,"date":1,"utc":true},{"year":2019,"month":2,"date":15,"utc":true},{"year":2019,"month":4,"date":1,"utc":true},{"year":2019,"month":5,"date":16,"utc":true}], "title": "Tempo", "titleFontSize": 21, "titlePadding": 5, "labelPadding": 2, "labelOverlap": false, "labelFlush": false, "labelExpr": "utcdate(datum.value)==1 ? ['Jan','Fev','Mar','Abr','Mai','Jun','Jul','Ago','Set','Out','Nov','Dez'][utcmonth(datum.value)] : ''", "tickOpacity": {"condition": {"test": "utcdate(datum.value)==1", "value": 1}, "value": 0}, "gridWidth": {"condition": {"test": "utcdate(datum.value)==1", "value": 1.8}, "value": 0.9}}},
   "y": {"field": "v", "type": "quantitative", "scale": {"domain": [-0.106, 0.861], "nice": false, "zero": false}, "axis": {"values": [0, 0.125, 0.25, 0.375, 0.5, 0.625, 0.75, 0.875], "title": null, "labels": false, "ticks": false, "gridWidth": {"condition": {"test": "datum.value*4==round(datum.value*4)", "value": 1.8}, "value": 0.9}}}
  },
  "layer": [
   {"transform": [{"filter": {"field": "s", "oneOf": ["B2", "B3", "B4", "B8"]}}], "mark": {"type": "line", "interpolate": "monotone", "strokeWidth": 1.4}, "encoding": {"color": {"field": "s", "type": "nominal", "scale": {"domain": ["B2", "B3", "B4", "B8"], "range": ["#F8766D", "#B79F00", "#00BA38", "#00BFC4"]}, "legend": {"title": null, "orient": "none", "legendX": 800, "legendY": 571, "rowPadding": 12}}}},
   {"transform": [{"filter": {"field": "s", "oneOf": ["EVI", "NDVI"]}}], "mark": {"type": "line", "interpolate": "monotone", "strokeWidth": 1.4}, "encoding": {"stroke": {"field": "s", "type": "nominal", "scale": {"domain": ["EVI", "NDVI"], "range": ["#619CFF", "#F564E3"]}, "legend": {"title": "Bandas", "orient": "none", "legendX": 676, "legendY": 580, "titleAnchor": "end", "titlePadding": 48, "rowPadding": 11}}}}
  ]}
]}
]},
{"spacing": 6, "vconcat": [
{"spacing": 0, "vconcat": [
 {"data": {"values": [{"n": "Baixo Albedo"}]}, "width": 303, "height": 47, "view": {"fill": "#D9D9D9", "stroke": null}, "mark": {"type": "text", "font": "Liberation Sans", "fontSize": 21, "fill": "#1A1A1A"}, "encoding": {"text": {"field": "n"}}},
 {"data": {"name": "baixo"}, "width": 303, "height": 197,
  "encoding": {
   "x": {"field": "t", "type": "temporal", "scale": {"type": "utc", "domain": [{"year": 2018, "month": 4, "date": 18, "utc": true}, {"year": 2019, "month": 5, "date": 6, "utc": true}]}, "axis": {"values": [{"year":2018,"month":5,"date":16,"utc":true},{"year":2018,"month":7,"date":1,"utc":true},{"year":2018,"month":8,"date":16,"utc":true},{"year":2018,"month":10,"date":1,"utc":true},{"year":2018,"month":11,"date":16,"utc":true},{"year":2019,"month":1,"date":1,"utc":true},{"year":2019,"month":2,"date":15,"utc":true},{"year":2019,"month":4,"date":1,"utc":true}], "labels": false, "ticks": false, "title": null, "gridWidth": {"condition": {"test": "utcdate(datum.value)==1", "value": 1.8}, "value": 0.9}}},
   "y": {"field": "v", "type": "quantitative", "scale": {"domain": [-0.106, 0.889], "nice": false, "zero": false}, "axis": {"values": [0, 0.125, 0.25, 0.375, 0.5, 0.625, 0.75, 0.875], "title": null, "labels": false, "ticks": false, "gridWidth": {"condition": {"test": "datum.value*4==round(datum.value*4)", "value": 1.8}, "value": 0.9}}}
  },
  "layer": [
   {"transform": [{"filter": {"field": "s", "oneOf": ["B2", "B3", "B4", "B8"]}}], "mark": {"type": "line", "interpolate": "monotone", "strokeWidth": 1.4}, "encoding": {"color": {"field": "s", "type": "nominal", "scale": {"domain": ["B2", "B3", "B4", "B8"], "range": ["#F8766D", "#B79F00", "#00BA38", "#00BFC4"]}, "legend": {"title": null, "orient": "none", "legendX": 800, "legendY": 571, "rowPadding": 12}}}},
   {"transform": [{"filter": {"field": "s", "oneOf": ["EVI", "NDVI"]}}], "mark": {"type": "line", "interpolate": "monotone", "strokeWidth": 1.4}, "encoding": {"stroke": {"field": "s", "type": "nominal", "scale": {"domain": ["EVI", "NDVI"], "range": ["#619CFF", "#F564E3"]}, "legend": {"title": "Bandas", "orient": "none", "legendX": 676, "legendY": 580, "titleAnchor": "end", "titlePadding": 48, "rowPadding": 11}}}}
  ]}
]},
{"spacing": 0, "vconcat": [
 {"data": {"values": [{"n": "Solo"}]}, "width": 303, "height": 40, "view": {"fill": "#D9D9D9", "stroke": null}, "mark": {"type": "text", "font": "Liberation Sans", "fontSize": 21, "fill": "#1A1A1A"}, "encoding": {"text": {"field": "n"}}},
 {"data": {"name": "solo"}, "width": 303, "height": 195,
  "encoding": {
   "x": {"field": "t", "type": "temporal", "scale": {"type": "utc", "domain": [{"year": 2018, "month": 4, "date": 18, "utc": true}, {"year": 2019, "month": 5, "date": 6, "utc": true}]}, "axis": {"values": [{"year":2018,"month":5,"date":16,"utc":true},{"year":2018,"month":7,"date":1,"utc":true},{"year":2018,"month":8,"date":16,"utc":true},{"year":2018,"month":10,"date":1,"utc":true},{"year":2018,"month":11,"date":16,"utc":true},{"year":2019,"month":1,"date":1,"utc":true},{"year":2019,"month":2,"date":15,"utc":true},{"year":2019,"month":4,"date":1,"utc":true}], "title": null, "labelPadding": 7, "labelOverlap": false, "labelFlush": false, "labelExpr": "utcdate(datum.value)==1 ? ['Jan','Fev','Mar','Abr','Mai','Jun','Jul','Ago','Set','Out','Nov','Dez'][utcmonth(datum.value)] : ''", "tickOpacity": {"condition": {"test": "utcdate(datum.value)==1", "value": 1}, "value": 0}, "gridWidth": {"condition": {"test": "utcdate(datum.value)==1", "value": 1.8}, "value": 0.9}}},
   "y": {"field": "v", "type": "quantitative", "scale": {"domain": [-0.094, 0.886], "nice": false, "zero": false}, "axis": {"values": [0, 0.125, 0.25, 0.375, 0.5, 0.625, 0.75, 0.875], "title": null, "labels": false, "ticks": false, "gridWidth": {"condition": {"test": "datum.value*4==round(datum.value*4)", "value": 1.8}, "value": 0.9}}}
  },
  "layer": [
   {"transform": [{"filter": {"field": "s", "oneOf": ["B2", "B3", "B4", "B8"]}}], "mark": {"type": "line", "interpolate": "monotone", "strokeWidth": 1.4}, "encoding": {"color": {"field": "s", "type": "nominal", "scale": {"domain": ["B2", "B3", "B4", "B8"], "range": ["#F8766D", "#B79F00", "#00BA38", "#00BFC4"]}, "legend": {"title": null, "orient": "none", "legendX": 800, "legendY": 571, "rowPadding": 12}}}},
   {"transform": [{"filter": {"field": "s", "oneOf": ["EVI", "NDVI"]}}], "mark": {"type": "line", "interpolate": "monotone", "strokeWidth": 1.4}, "encoding": {"stroke": {"field": "s", "type": "nominal", "scale": {"domain": ["EVI", "NDVI"], "range": ["#619CFF", "#F564E3"]}, "legend": {"title": "Bandas", "orient": "none", "legendX": 676, "legendY": 580, "titleAnchor": "end", "titlePadding": 48, "rowPadding": 11}}}}
  ]}
]}
]}
]
}
